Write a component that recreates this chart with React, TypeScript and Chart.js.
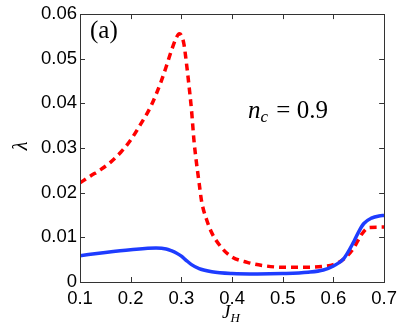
import React, { useEffect, useRef } from "react";
import { Chart, registerables } from "chart.js";

Chart.register(...registerables);

const xTicks = [0.1, 0.2, 0.3, 0.4, 0.5, 0.6, 0.7];
const yTicks = [0, 0.01, 0.02, 0.03, 0.04, 0.05, 0.06];

const jhRed = [0.10, 0.12, 0.14, 0.16, 0.18, 0.20, 0.22, 0.24, 0.26, 0.27, 0.28, 0.29, 0.296, 0.30, 0.305, 0.31, 0.315, 0.32, 0.325, 0.33, 0.335, 0.34, 0.35, 0.36, 0.38, 0.40, 0.43, 0.46, 0.50, 0.55, 0.58, 0.60, 0.62, 0.64, 0.655, 0.67, 0.70];
const lambdaRed = [0.0222, 0.0237, 0.0251, 0.0268, 0.0290, 0.0318, 0.0354, 0.0394, 0.0449, 0.0482, 0.0517, 0.0547, 0.0556, 0.0552, 0.0533, 0.0490, 0.0440, 0.0385, 0.0315, 0.0265, 0.0222, 0.0180, 0.0139, 0.0110, 0.0076, 0.0056, 0.0044, 0.0037, 0.0033, 0.0033, 0.0035, 0.0039, 0.0051, 0.0076, 0.0106, 0.0122, 0.0123];

const jhBlue = [0.10, 0.15, 0.20, 0.25, 0.27, 0.28, 0.29, 0.30, 0.31, 0.32, 0.335, 0.36, 0.40, 0.45, 0.50, 0.55, 0.58, 0.60, 0.62, 0.64, 0.65, 0.66, 0.675, 0.69, 0.70];
const lambdaBlue = [0.0059, 0.0066, 0.0072, 0.0076, 0.0074, 0.0070, 0.0065, 0.0058, 0.0048, 0.0039, 0.0030, 0.0023, 0.0019, 0.0018, 0.0019, 0.0022, 0.0027, 0.0036, 0.0052, 0.0090, 0.0113, 0.0131, 0.0143, 0.0148, 0.0149];

const panelLabel = "(a)";

const decorPlugin = {
  id: "decor",
  afterDraw(chart: any) {
    const { ctx, chartArea } = chart;
    const { left, right, top, bottom } = chartArea;
    const xs = chart.scales.x;
    const ys = chart.scales.y;
    ctx.save();
    ctx.strokeStyle = "#333";
    ctx.lineWidth = 1;
    ctx.beginPath();
    const tl = 5;
    xTicks.forEach((v) => {
      const px = Math.round(xs.getPixelForValue(v)) + 0.5;
      ctx.moveTo(px, bottom);
      ctx.lineTo(px, bottom - tl);
      ctx.moveTo(px, top);
      ctx.lineTo(px, top + tl);
    });
    yTicks.forEach((v) => {
      const py = Math.round(ys.getPixelForValue(v)) + 0.5;
      ctx.moveTo(left, py);
      ctx.lineTo(left + tl, py);
      ctx.moveTo(right, py);
      ctx.lineTo(right - tl, py);
    });
    ctx.stroke();
    ctx.strokeRect(Math.round(left) + 0.5, Math.round(top) + 0.5, Math.round(right - left), Math.round(bottom - top));

    ctx.fillStyle = "#000";
    ctx.textBaseline = "alphabetic";
    // panel label
    ctx.font = "25px 'Liberation Serif'";
    ctx.textAlign = "left";
    ctx.fillText(panelLabel, 90, 38);

    // n_c = 0.9
    ctx.font = "italic 25px 'Liberation Serif'";
    ctx.fillText("n", 248, 118);
    const nw = ctx.measureText("n").width;
    ctx.font = "italic 17px 'Liberation Serif'";
    ctx.fillText("c", 248 + nw, 122);
    const cw = ctx.measureText("c").width;
    ctx.font = "25px 'Liberation Serif'";
    ctx.fillText(" = 0.9", 248 + nw + cw + 2, 118);

    // x label J_H
    ctx.font = "italic 19px 'Liberation Serif'";
    ctx.fillText("J", 222, 318);
    const jw = ctx.measureText("J").width;
    ctx.font = "italic 13px 'Liberation Serif'";
    ctx.fillText("H", 222 + jw, 322);

    // y label lambda
    ctx.translate(27, 146);
    ctx.rotate(-Math.PI / 2);
    ctx.font = "italic 20px 'Liberation Serif'";
    ctx.textAlign = "center";
    ctx.fillText("λ", 0, 0);
    ctx.restore();
  },
};

export default function App() {
  const ref = useRef<HTMLCanvasElement | null>(null);
  useEffect(() => {
    if (!ref.current) return;
    const chart = new Chart(ref.current, {
      type: "line",
      data: {
        datasets: [
          {
            data: jhBlue.map((x, i) => ({ x, y: lambdaBlue[i] })),
            borderColor: "rgb(30,60,255)",
            borderWidth: 3.5,
            pointRadius: 0,
            cubicInterpolationMode: "monotone",
            fill: false,
          },
          {
            data: jhRed.map((x, i) => ({ x, y: lambdaRed[i] })),
            borderColor: "#ff0000",
            borderWidth: 3.5,
            borderDash: [7, 5],
            pointRadius: 0,
            cubicInterpolationMode: "monotone",
            fill: false,
          },
        ],
      },
      options: {
        animation: false,
        responsive: false,
        devicePixelRatio: 1,
        layout: { padding: { left: 0, top: 13, right: 15, bottom: 0 } },
        plugins: { legend: { display: false }, tooltip: { enabled: false } },
        scales: {
          x: {
            type: "linear",
            min: 0.1,
            max: 0.7,
            afterBuildTicks: (s: any) => {
              s.ticks = xTicks.map((v) => ({ value: v }));
            },
            afterFit: (s: any) => {
              s.height = 48;
            },
            ticks: {
              callback: (v: any) => Number(v).toFixed(1),
              font: { family: "'Liberation Sans'", size: 18.5 },
              color: "#000",
              padding: 6,
              maxRotation: 0,
              autoSkip: false,
            },
            grid: { display: false, drawTicks: false },
            border: { display: false },
          },
          y: {
            type: "linear",
            min: 0,
            max: 0.06,
            afterBuildTicks: (s: any) => {
              s.ticks = yTicks.map((v) => ({ value: v }));
            },
            afterFit: (s: any) => {
              s.width = 80;
            },
            ticks: {
              callback: (v: any) => (Number(v) === 0 ? "0" : Number(v).toFixed(2)),
              font: { family: "'Liberation Sans'", size: 18.5 },
              color: "#000",
              padding: 3,
              autoSkip: false,
            },
            grid: { display: false, drawTicks: false },
            border: { display: false },
          },
        },
      },
      plugins: [decorPlugin],
    } as any);
    return () => chart.destroy();
  }, []);
  return (
    <div style={{ position: "fixed", left: 0, top: 0, width: 403, height: 330, background: "#fff" }}>
      <canvas ref={ref} width={403} height={330} />
    </div>
  );
}
